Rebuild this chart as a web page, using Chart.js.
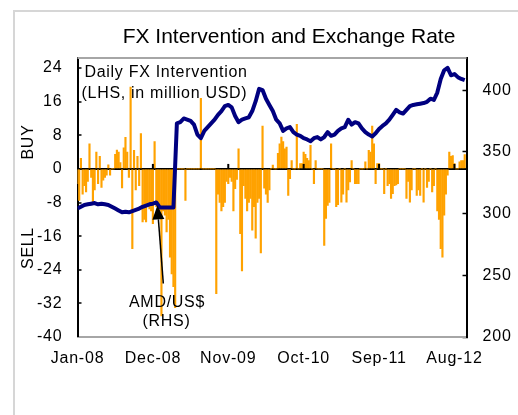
<!DOCTYPE html>
<html>
<head>
<meta charset="utf-8">
<script src="https://cdn.jsdelivr.net/npm/chart.js@4.4.1/dist/chart.umd.min.js"></script>
<style>
  html, body { margin: 0; padding: 0; background: #fff; }
  canvas { display: block; }
</style>
</head>
<body>
<canvas id="fxChart" width="518" height="415"></canvas>
<script>
// x axis is in months from Jan-08
const tickMonths = [0, 11, 22, 33, 44, 55];
const tickLabels = ["Jan-08", "Dec-08", "Nov-09", "Oct-10", "Sep-11", "Aug-12"];
const leftTicks = [-40, -32, -24, -16, -8, 0, 8, 16, 24];
const rightTicks = [200, 250, 300, 350, 400];

// intervention, million USD, one bar per quarter month (LHS)
const intervention = [
  -3.5, -7.5, 2.5, -6, -4, -5.5, -3, 6, -2, -7.9,
  -5, 4, -3.5, 3, -4.4, -2.7, -2, -1.5, 1, -1.5,
  0, 0, 3.5, 4.5, 4, 1.5, -4.5, 5, 7.5, 4,
  -2, 19.5, -19, 4.4, -5, 3, -4, 8.4, -12.6, -12,
  -12.6, -9, -9.5, -10, -13, 6.5, -9, -9.5, -10, -35,
  -10, -11, -15, -12, -21, -25, -28, -33, 0, 0,
  0, 0, 0, -7.5, 0, 0, 0, 0, 0, 0,
  0, 0, 16.8, 0, 0, 0, 0, 0, 0, 0,
  0, -29.7, -6, -8, -10, -9, -8, -3, -3.5, -2,
  -3, -10, -4.7, -2.5, 4.8, -15.4, -24.3, -4, -7, -10,
  -8, -7, -14.6, -9, -16.5, -8, -7, -20, 10.2, -4.6,
  -6, -8, -5, 0, 0.9, 0, 0, 3.7, 6, 7.6,
  6.5, 4.8, 5.2, -6.3, -2.3, 2, 0, 0, 10.6, 0,
  1.3, 1.3, 4, 3.5, 2.5, 2, 5.6, 0, -3.5, 2,
  0, 0, 0, 0, -18.2, -11.8, -8.7, -8, 6, 0,
  0, -9, -8.5, 0, -7.9, -6, 0, -7.9, -5, -3.1,
  2, 0, -3.5, -3.5, -3.5, 0, 0, 0, 1.7, 0,
  4.4, 4, 10.2, 6, -3.5, 1.3, 1.3, 0, 0, -5.9,
  0, -4, -3.5, -7, -5.9, -4, -3.8, -3.5, 0, 0,
  0, 0, -7, -3, -7.9, -5, 0, 0, -6.3, -5,
  -6.3, 0, -7.9, 0, -4.4, -3, 0, -5.5, -4, 0,
  -10, -12, -19, -21, -11, -6, -1.5, 4, 3, 3.2,
  1.3, 0, 0, 1.7, 2, 2, 3.4
];

// AMD per USD, one point per half month (RHS)
const amdRate = [
  304, 305.5, 307, 307.5, 308, 308.5, 307.5, 308, 307.5, 307,
  305.5, 304, 302.5, 301, 301.5, 301, 302, 303, 304, 305.5,
  306.5, 307.5, 308, 309, 305, 305, 305, 305, 305, 373,
  374, 377, 376, 375, 372, 364, 361, 367, 370, 373,
  376, 380, 383, 387, 388, 386, 379, 374, 376, 377,
  378, 383, 391, 401, 400, 393, 388, 383, 376, 373,
  367, 369, 370, 366, 364, 363, 361, 360, 358.6, 361,
  362, 360, 362, 366, 363, 364, 367, 369, 370, 376,
  372, 374, 373, 369, 366, 364, 362.5, 365, 368.5, 371,
  373, 376, 380, 384, 382, 381, 384, 387, 388, 388.5,
  389, 389.5, 390.5, 393, 392, 398, 409, 416, 418, 412,
  413, 410.5, 409, 408
];

const FONT = "'Liberation Sans', Arial, sans-serif";

const decor = {
    id: "decor",
    beforeDraw(chart) {
        const ctx = chart.ctx;
        ctx.letterSpacing = "0.8px";
        // outer frame of the exhibit
        ctx.save();
        ctx.strokeStyle = "#d6d6d6";
        ctx.lineWidth = 2;
        ctx.beginPath();
        ctx.moveTo(14, 415);
        ctx.lineTo(14, 11);
        ctx.lineTo(518, 11);
        ctx.stroke();
        ctx.restore();
    },
    afterDatasetsDraw(chart) {
        const ctx = chart.ctx;
        const area = chart.chartArea;
        const x = chart.scales.x;
        const y0 = chart.scales.y.getPixelForValue(0);
        ctx.save();
        // small tick marks on the zero line
        ctx.strokeStyle = "#000";
        ctx.lineWidth = 2;
        tickMonths.slice(1).forEach((m) => {
            const px = x.getPixelForValue(m);
            ctx.beginPath();
            ctx.moveTo(px, y0 - 5);
            ctx.lineTo(px, y0);
            ctx.stroke();
        });
        // top edge of plot area
        ctx.strokeStyle = "#a6a6a6";
        ctx.beginPath();
        ctx.moveTo(area.left, area.top);
        ctx.lineTo(area.right, area.top);
        ctx.stroke();
        ctx.restore();
    },
    afterDraw(chart) {
        const ctx = chart.ctx;
        const area = chart.chartArea;
        const x = chart.scales.x;
        const y1 = chart.scales.y1;
        ctx.save();
        ctx.fillStyle = "#000";

        ctx.letterSpacing = "0px";
        ctx.font = "21px " + FONT;
        ctx.textAlign = "center";
        ctx.textBaseline = "alphabetic";
        ctx.fillText("FX Intervention and Exchange Rate", 289, 43);

        ctx.letterSpacing = "0.7px";
        ctx.font = "16px " + FONT;
        ctx.textAlign = "left";
        ctx.textBaseline = "middle";
        ctx.fillText("Daily FX Intervention", area.left + 7, 73);
        ctx.fillText("(LHS, in million USD)", area.left + 4, 94);

        ctx.textAlign = "center";
        ctx.fillText("AMD/US$", 167, 303);
        ctx.fillText("(RHS)", 166.5, 322);

        // BUY / SELL side labels
        [["BUY", 142], ["SELL", 248]].forEach(([t, cy]) => {
            ctx.save();
            ctx.translate(28.5, cy);
            ctx.rotate(-Math.PI / 2);
            ctx.fillText(t, 0, 0);
            ctx.restore();
        });

        // arrow pointing at the rate line
        const tipX = x.getPixelForValue(23 * 0.5) + 1;
        const tipY = y1.getPixelForValue(amdRate[23]) + 3;
        const tailX = tipX + 6;
        const tailY = tipY + 78;
        const len = Math.hypot(tailX - tipX, tailY - tipY);
        const ux = (tipX - tailX) / len;
        const uy = (tipY - tailY) / len;
        const bx = tipX - 14 * ux;
        const by = tipY - 14 * uy;
        ctx.strokeStyle = "#000";
        ctx.lineWidth = 1.5;
        ctx.beginPath();
        ctx.moveTo(tailX, tailY);
        ctx.lineTo(bx, by);
        ctx.stroke();
        ctx.beginPath();
        ctx.moveTo(tipX, tipY);
        ctx.lineTo(bx - 6 * uy, by + 6 * ux);
        ctx.lineTo(bx + 6 * uy, by - 6 * ux);
        ctx.closePath();
        ctx.fill();
        ctx.restore();
    },
};

const tickFont = { family: FONT, size: 16 };

new Chart(document.getElementById("fxChart"), {
    type: "bar",
    data: {
        datasets: [
            {
                type: "line",
                label: "AMD/US$",
                data: amdRate.map((v, k) => ({ x: k * 0.5, y: v })),
                yAxisID: "y1",
                borderColor: "#000080",
                borderWidth: 4,
                borderJoinStyle: "round",
                pointRadius: 0,
                tension: 0,
                order: 0,
            },
            {
                type: "bar",
                label: "Daily FX Intervention",
                data: intervention.map((v, i) => ({ x: i * 0.25, y: v })),
                yAxisID: "y",
                backgroundColor: "#ffa200",
                barThickness: 1.5,
                order: 1,
            },
        ],
    },
    options: {
        responsive: false,
        animation: false,
        devicePixelRatio: 1,
        layout: { padding: { top: 58, left: 0, right: 0, bottom: 0 } },
        plugins: {
            legend: { display: false },
            tooltip: { enabled: false },
        },
        scales: {
            x: {
                type: "linear",
                min: 0,
                max: 56.76,
                offset: false,
                grid: { display: false, drawTicks: false, offset: false },
                border: { display: true, color: "#a6a6a6", width: 2 },
                afterBuildTicks: (s) => { s.ticks = tickMonths.map((v) => ({ value: v })); },
                afterFit: (s) => { s.height = 78; },
                ticks: {
                    autoSkip: false,
                    maxRotation: 0,
                    padding: 12,
                    color: "#000",
                    font: tickFont,
                    callback: (v) => tickLabels[tickMonths.indexOf(v)],
                },
            },
            y: {
                position: "left",
                min: -40,
                max: 26.4,
                afterBuildTicks: (s) => { s.ticks = leftTicks.map((v) => ({ value: v })); },
                afterFit: (s) => { s.width = 77.5; },
                grid: {
                    drawOnChartArea: true,
                    color: (c) => (c.tick && c.tick.value === 0 ? "#000" : "rgba(0,0,0,0)"),
                    lineWidth: (c) => (c.tick && c.tick.value === 0 ? 2 : 0),
                    tickLength: -4,
                    tickColor: "#000",
                    tickWidth: 1.5,
                },
                border: { display: true, color: "#000", width: 2 },
                ticks: { padding: 19, color: "#000", font: tickFont },
            },
            y1: {
                position: "right",
                min: 200,
                max: 426,
                afterBuildTicks: (s) => { s.ticks = rightTicks.map((v) => ({ value: v })); },
                afterFit: (s) => { s.width = 51.5; },
                grid: {
                    drawOnChartArea: false,
                    tickLength: -4,
                    tickColor: "#000",
                    tickWidth: 1.5,
                },
                border: { display: true, color: "#000", width: 2 },
                ticks: { padding: 20, color: "#000", font: tickFont },
            },
        },
    },
    plugins: [decor],
});
</script>
</body>
</html>
